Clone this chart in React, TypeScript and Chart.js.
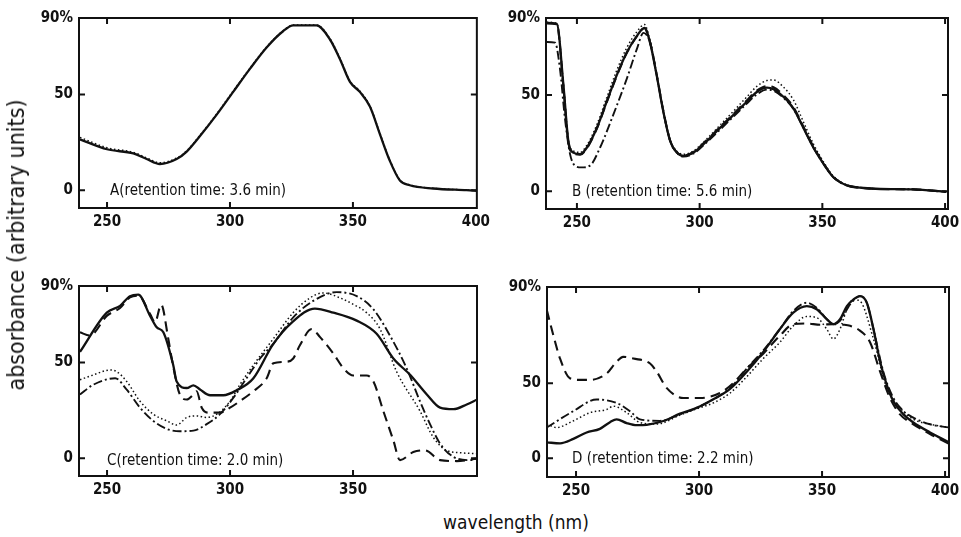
import React, { useEffect, useRef } from "react";
import { Chart, registerables } from "chart.js";

Chart.register(...registerables);

const FONT = '"Liberation Sans Narrow", "DejaVu Sans Condensed", "Arial Narrow", sans-serif';
const INK = "#111";

// ---------- Panel A (retention time 3.6 min) ----------
const A_WL = [239, 250, 260.7, 266.1, 271.5, 278.3, 282.4, 287.8, 294.6, 301.3, 308.1, 314.9, 321.7, 325.7, 335.2, 340.6, 344.7, 348.8, 352.8, 356.9, 361, 365, 369.1, 373.1, 382.6, 396.2, 400.5];
const A_SOLID = [26.6, 21.4, 19.2, 16.3, 13.7, 16.3, 20.2, 28.3, 39.5, 51.4, 63.4, 74.6, 83.2, 86.1, 86.1, 78.9, 68.6, 56.6, 51.4, 43.7, 29.2, 15.4, 5.1, 2.6, 0.9, 0, -0.3];
const A_DOTTED = [27.6, 22.2, 19.8, 16.9, 14.3, 16.8, 20.6, 28.7, 39.9, 51.8, 63.7, 74.9, 83.4, 86.3, 86.3, 79.3, 69, 57.1, 51.9, 44.1, 29.6, 15.7, 5.4, 2.8, 1.0, 0.1, -0.2];

// ---------- Panel B (retention time 5.6 min) ----------
const B_WL = [237.7, 241.8, 244.5, 246.5, 248.5, 251.3, 254, 258.1, 262.1, 266.2, 270.3, 274.4, 277.5, 279.8, 282.5, 285.2, 288, 290.7, 293.4, 297.5, 302.9, 308.3, 313.8, 319.2, 323.3, 327.4, 330.1, 334.1, 338.2, 342.3, 346.4, 350.5, 354.5, 360, 366.8, 373.6, 387.1, 400.5];
const B_SOLID = [87.5, 87, 55.1, 26.1, 20.1, 19.3, 22.6, 32.9, 46.5, 60.2, 72.1, 80.6, 84.9, 77.2, 60.2, 41.4, 26.1, 20.1, 18.4, 20.1, 26.1, 32.9, 39.7, 46.5, 51.6, 53.8, 53, 49.1, 43.1, 32.9, 22.6, 14.2, 7.3, 3.1, 1.7, 1.2, 1, -0.3];
const B_DOTTED = [87.8, 87.3, 56, 27, 21, 20.2, 23.8, 34.5, 48.5, 62.7, 74.5, 82.8, 86.6, 78, 60.5, 41.8, 26.6, 20.8, 19.2, 21, 27.2, 34.3, 41.6, 49, 54.5, 57.5, 57.8, 54.2, 47.5, 36, 24.5, 15.2, 7.8, 3.3, 1.8, 1.2, 1, -0.3];
const B_DASHED = [87.2, 86.8, 54, 25.5, 19.8, 19, 22.2, 32.5, 46, 59.8, 71.8, 80.4, 84.7, 77.5, 60.6, 41.8, 26.3, 20.3, 18.6, 20.4, 26.6, 33.4, 40.2, 47.2, 52.3, 54.6, 54, 50, 43.8, 33.5, 23, 14.5, 7.4, 3.1, 1.7, 1.2, 1, -0.3];
const B_DASHDOT_WL = [237.7, 241.1, 243.1, 245.1, 247.2, 249.2, 251.9, 255.3, 259.4, 264.8, 270.3, 274.4, 277.1, 279.8, 282.5, 285.2, 288, 290.7, 293.4, 297.5, 302.9, 308.3, 313.8, 319.2, 323.3, 327.4, 330.1, 334.1, 338.2, 342.3, 346.4, 350.5, 354.5, 360, 366.8, 373.6, 387.1, 400.5];
const B_DASHDOT = [77.5, 77.2, 63.5, 38, 19.3, 13.3, 12.4, 13.3, 22.6, 39.7, 58.4, 73.8, 82.3, 77.2, 60.2, 41.4, 26.1, 20.1, 18, 19.6, 25.5, 32, 38.8, 45.5, 50.3, 52.8, 52.2, 48.6, 42.8, 33, 22.6, 14.2, 7.3, 3.1, 1.7, 1.2, 1, -0.3];

// ---------- Panel C (retention time 2.0 min) ----------
const C_SOLID_WL = [239, 249.9, 255.3, 259.3, 262.7, 267.5, 270.2, 272.9, 276.9, 278.3, 282.4, 285.1, 287.8, 291.9, 297.3, 302.7, 309.5, 317.4, 325.2, 334.5, 342, 351.5, 359.6, 366.4, 373.2, 380, 385.4, 390.8, 396.2, 400.5];
const C_SOLID = [55.6, 76.1, 79.6, 84.7, 85.5, 74.4, 68.4, 65.8, 48.7, 40.1, 36.7, 38.1, 35.9, 32.9, 32.9, 35.5, 41.8, 59.4, 71, 78.2, 76.1, 71.9, 65, 52.1, 43.6, 33.3, 26.4, 25.6, 28.1, 30.7];
const C_DASHED_WL = [239, 243, 250, 255.3, 259.3, 262.7, 267.5, 269.5, 272, 274.9, 276.3, 279.6, 282.4, 285.1, 286.4, 288.5, 291.2, 295.9, 300, 304, 309.5, 314.9, 317.6, 323, 325.7, 328.4, 333.2, 336.6, 342, 346.1, 350.1, 355.5, 358.3, 362.3, 366.4, 369.1, 374.5, 379.3, 385.4, 392.1, 400.5];
const C_DASHED = [65.8, 64.1, 74.5, 78.5, 84, 85, 75.3, 71, 80.2, 62.4, 52.1, 33.3, 30.7, 33.3, 35, 26.4, 23.8, 23.8, 26.4, 29.8, 35, 41.8, 49.6, 50.4, 52.1, 59, 67.5, 63.3, 54.7, 47, 43.2, 43.2, 40.1, 24.7, 9.3, -1, 3.2, 4.1, -1, -1.5, -0.2];
const C_DOTTED_WL = [239, 244.4, 251.2, 253.9, 258, 263.4, 268.8, 274.3, 278.3, 282.4, 286.5, 290.5, 294.6, 300, 304, 309.5, 317.6, 325.7, 332.5, 337.9, 344.7, 350.1, 355.5, 361, 367.7, 377.2, 382.6, 388, 394, 400.5];
const C_DOTTED = [41, 43.5, 46.1, 45.3, 40.1, 29.8, 23, 19.5, 17.3, 21.3, 22.1, 21.3, 23, 29.8, 38.4, 48.7, 62.4, 76.1, 83.8, 86.4, 83.8, 80.4, 76.1, 67.5, 45.3, 24.7, 11, 4.1, 2.8, 2.4];
const C_DASHDOT_WL = [239, 244.4, 253.3, 258, 263.4, 268.8, 274.3, 279.6, 285.1, 290.5, 295.9, 301.3, 306.7, 312.2, 317.6, 325.7, 333.8, 343.3, 351.5, 358.3, 365, 371.8, 377.2, 381.3, 385.4, 390.8, 397.5, 400.5];
const C_DASHDOT = [33.3, 38.4, 41.8, 35.8, 26.4, 19.5, 15.3, 14.1, 14.4, 17.8, 23, 31.5, 41.8, 52.1, 59.8, 73.6, 82.2, 86.8, 84.7, 77.8, 64.1, 47, 29.8, 17.8, 7.6, 0.7, -1, -0.2];

// ---------- Panel D (retention time 2.2 min) ----------
const D_SOLID_WL = [238.1, 243.5, 248.9, 254.3, 259.7, 263.8, 266.5, 270.6, 274.7, 278.7, 285.5, 292.3, 299, 305.8, 312.6, 319.4, 326.1, 332.9, 338.3, 343.8, 347.8, 351.9, 354.6, 357.3, 360.1, 362.7, 365.4, 368.2, 370.9, 373.6, 376.3, 379, 383.1, 387.1, 393.9, 401.6];
const D_SOLID = [8.4, 7.9, 10.2, 13.6, 15.5, 19, 20.5, 18.5, 17.4, 17.6, 19.6, 23.5, 26.5, 31, 36.5, 45.5, 55.9, 67.9, 76.5, 80, 78.3, 73.1, 70.5, 73.1, 80, 83.4, 85.2, 81.7, 67.9, 50.7, 38.6, 30, 23.1, 18.8, 13.6, 8.4];
const D_DASHED_WL = [238.1, 240.8, 243.5, 247.5, 251.6, 255.7, 262.5, 266, 269.2, 273.3, 280.1, 282.8, 286.9, 293.6, 300.4, 308.5, 313.9, 319.4, 326.1, 332.9, 338.3, 343.8, 349.2, 354.6, 358.7, 361.4, 365.4, 369.5, 373.6, 377.6, 381.7, 387.1, 393.9, 401.6];
const D_DASHED = [78, 64.5, 52.4, 42.1, 41.2, 41.2, 44.6, 50, 53.3, 52.4, 49.8, 45.5, 36.9, 31.7, 31.7, 34.3, 39.5, 47.2, 55, 64.5, 70.5, 70.8, 70.2, 70.5, 70.2, 69.6, 67.1, 61, 45.5, 31.7, 23.1, 17.9, 12.8, 7.6];
const D_DOTTED_WL = [238.1, 242.1, 248.9, 255.7, 262.5, 265.2, 270.6, 276, 282.8, 292.3, 299, 305.8, 312.6, 319.4, 326.1, 332.9, 338.3, 343.8, 347.8, 351.9, 354.6, 357.3, 360.1, 362.7, 365.4, 370.9, 376.3, 381.7, 387.1, 393.9, 401.6];
const D_DOTTED = [18, 16.2, 19.7, 24, 25.7, 27.4, 24, 18.8, 18, 22.7, 26, 29.1, 34.3, 42.9, 52.4, 61, 69.6, 74.5, 73.9, 67.9, 62.7, 67.9, 78.3, 83.4, 82.6, 62.7, 36.9, 26.5, 20.5, 17.9, 16.2];
const D_DASHDOT_WL = [238.1, 248.9, 258.4, 266.5, 271.9, 276, 284.1, 292.3, 299, 305.8, 312.6, 319.4, 326.1, 332.9, 338.3, 343.8, 347.8, 351.9, 354.6, 357.3, 361.4, 365.4, 368.2, 370.9, 374.9, 379, 383.1, 387.1, 393.9, 401.6];
const D_DASHDOT = [16.2, 24.8, 30.9, 29.1, 24.8, 20.5, 19.7, 23.1, 26.5, 31, 36.9, 47.2, 56.7, 67.9, 77.4, 81.7, 79.1, 73.1, 70.5, 72.2, 80.8, 85.2, 81.7, 67.9, 45.5, 31.7, 24.8, 21.4, 17.9, 16.2];

// ---------- Tick values and labels ----------
const X_TICKS_FULL = [250, 300, 350, 400];
const X_TICKS_C = [250, 300, 350];
const Y_TICKS = [0, 50, 90];
const Y_TICKS_D = [0, 39.5, 90];
const Y_LABELS = ["0", "50", "90%"];

const PANEL_TITLES = [
  "A(retention time: 3.6 min)",
  "B (retention time: 5.6 min)",
  "C(retention time: 2.0 min)",
  "D (retention time: 2.2 min)",
];
const Y_TITLE = "absorbance (arbitrary units)";
const X_TITLE = "wavelength (nm)";

type Style = "solid" | "dotted" | "dashed" | "dashdot";
const STYLE: Record<Style, { w: number; dash: number[] }> = {
  solid: { w: 2.3, dash: [] },
  dotted: { w: 1.5, dash: [1.5, 2.5] },
  dashed: { w: 2.1, dash: [10, 6] },
  dashdot: { w: 1.9, dash: [9, 3, 2, 3] },
};

type Series = { x: number[]; y: number[]; style: Style };
type Spec = {
  left: number; top: number; right: number; bottom: number;
  xMin: number; xMax: number; yMin: number; yMax: number;
  xTicks: number[]; yTicks: number[]; yLabels: string[];
  series: Series[];
  title: string; titleX: number; titleY: number;
};

const PANELS: Spec[] = [
  {
    left: 79, top: 15, right: 477, bottom: 208,
    xMin: 238.6, xMax: 400.4, yMin: -9.3, yMax: 90,
    xTicks: X_TICKS_FULL, yTicks: Y_TICKS, yLabels: Y_LABELS,
    series: [
      { x: A_WL, y: A_DOTTED, style: "dotted" },
      { x: A_WL, y: A_SOLID, style: "solid" },
    ],
    title: PANEL_TITLES[0], titleX: 110, titleY: 190,
  },
  {
    left: 546, top: 15, right: 948, bottom: 209,
    xMin: 237.4, xMax: 401.2, yMin: -9.2, yMax: 90,
    xTicks: X_TICKS_FULL, yTicks: Y_TICKS, yLabels: Y_LABELS,
    series: [
      { x: B_WL, y: B_DOTTED, style: "dotted" },
      { x: B_DASHDOT_WL, y: B_DASHDOT, style: "dashdot" },
      { x: B_WL, y: B_DASHED, style: "dashed" },
      { x: B_WL, y: B_SOLID, style: "solid" },
    ],
    title: PANEL_TITLES[1], titleX: 572, titleY: 191,
  },
  {
    left: 79, top: 283, right: 477, bottom: 476,
    xMin: 238.6, xMax: 400.4, yMin: -9.3, yMax: 90,
    xTicks: X_TICKS_C, yTicks: Y_TICKS, yLabels: Y_LABELS,
    series: [
      { x: C_DOTTED_WL, y: C_DOTTED, style: "dotted" },
      { x: C_DASHDOT_WL, y: C_DASHDOT, style: "dashdot" },
      { x: C_DASHED_WL, y: C_DASHED, style: "dashed" },
      { x: C_SOLID_WL, y: C_SOLID, style: "solid" },
    ],
    title: PANEL_TITLES[2], titleX: 107, titleY: 460,
  },
  {
    left: 547, top: 284, right: 949, bottom: 477,
    xMin: 238.2, xMax: 401.6, yMin: -9.8, yMax: 90,
    xTicks: X_TICKS_FULL, yTicks: Y_TICKS_D, yLabels: Y_LABELS,
    series: [
      { x: D_DOTTED_WL, y: D_DOTTED, style: "dotted" },
      { x: D_DASHDOT_WL, y: D_DASHDOT, style: "dashdot" },
      { x: D_DASHED_WL, y: D_DASHED, style: "dashed" },
      { x: D_SOLID_WL, y: D_SOLID, style: "solid" },
    ],
    title: PANEL_TITLES[3], titleX: 572, titleY: 458,
  },
];

const framePlugin = {
  id: "frame",
  afterDatasetsDraw(chart: any) {
    const { ctx, chartArea: a, scales } = chart;
    const x = scales.x;
    const y = scales.y;
    const TL = 6;
    ctx.save();
    ctx.strokeStyle = INK;
    ctx.lineWidth = 2;
    ctx.setLineDash([]);
    ctx.strokeRect(a.left, a.top, a.right - a.left, a.bottom - a.top);
    ctx.beginPath();
    for (const t of x.ticks) {
      const px = x.getPixelForValue(t.value);
      if (px <= a.left + 1 || px >= a.right - 1) continue;
      ctx.moveTo(px, a.top);
      ctx.lineTo(px, a.top + TL);
      ctx.moveTo(px, a.bottom);
      ctx.lineTo(px, a.bottom - TL);
    }
    for (const t of y.ticks) {
      const py = y.getPixelForValue(t.value);
      if (py <= a.top + 1 || py >= a.bottom - 1) continue;
      ctx.moveTo(a.left, py);
      ctx.lineTo(a.left + TL, py);
      ctx.moveTo(a.right, py);
      ctx.lineTo(a.right - TL, py);
    }
    ctx.stroke();
    ctx.restore();
  },
};

const PADL = 52;
const PADT = 12;
const PADR = 18;
const PADB = 30;

function Panel({ spec }: { spec: Spec }) {
  const ref = useRef<HTMLCanvasElement>(null);
  const w = spec.right - spec.left + PADL + PADR;
  const h = spec.bottom - spec.top + PADT + PADB;

  useEffect(() => {
    const font = { family: FONT, size: 15, weight: "bold" as const };
    const chart = new Chart(ref.current as HTMLCanvasElement, {
      type: "line",
      data: {
        datasets: spec.series.map((s) => ({
          data: s.x.map((xv, i) => ({ x: xv, y: s.y[i] })),
          borderColor: INK,
          borderWidth: STYLE[s.style].w,
          borderDash: STYLE[s.style].dash,
          pointRadius: 0,
          fill: false,
          cubicInterpolationMode: "monotone" as const,
        })),
      },
      options: {
        responsive: false,
        maintainAspectRatio: false,
        animation: false,
        devicePixelRatio: 1,
        events: [],
        layout: { padding: { left: 0, top: PADT, right: PADR, bottom: 0 } },
        plugins: { legend: { display: false }, tooltip: { enabled: false } },
        scales: {
          x: {
            type: "linear",
            min: spec.xMin,
            max: spec.xMax,
            grid: { display: false, drawTicks: false },
            border: { display: false },
            afterBuildTicks: (s: any) => {
              s.ticks = spec.xTicks.map((v) => ({ value: v }));
            },
            afterFit: (s: any) => {
              s.height = PADB;
            },
            ticks: {
              autoSkip: false,
              maxRotation: 0,
              minRotation: 0,
              padding: 5,
              color: INK,
              font,
              callback: (v: any) => String(v),
            },
          },
          y: {
            type: "linear",
            min: spec.yMin,
            max: spec.yMax,
            grid: { display: false, drawTicks: false },
            border: { display: false },
            afterBuildTicks: (s: any) => {
              s.ticks = spec.yTicks.map((v) => ({ value: v }));
            },
            afterFit: (s: any) => {
              s.width = PADL;
            },
            ticks: {
              autoSkip: false,
              padding: 6,
              color: INK,
              font,
              callback: (_v: any, i: number) => spec.yLabels[i],
            },
          },
        },
      },
      plugins: [framePlugin],
    } as any);
    return () => chart.destroy();
  }, [spec]);

  return (
    <>
      <canvas
        ref={ref}
        width={w}
        height={h}
        style={{ position: "absolute", left: spec.left - PADL, top: spec.top - PADT, width: w, height: h }}
      />
      <div
        style={{
          position: "absolute",
          left: spec.titleX,
          top: spec.titleY - 9,
          height: 18,
          lineHeight: "18px",
          fontFamily: FONT,
          fontSize: 15,
          color: INK,
          whiteSpace: "nowrap",
        }}
      >
        {spec.title}
      </div>
    </>
  );
}

export default function App() {
  return (
    <div
      style={{
        position: "absolute",
        left: 0,
        top: 0,
        width: 961,
        height: 537,
        background: "#fff",
        overflow: "hidden",
      }}
    >
      {PANELS.map((p, i) => (
        <Panel key={i} spec={p} />
      ))}
      <div
        style={{
          position: "absolute",
          left: 16,
          top: 245,
          transform: "translate(-50%, -50%) rotate(-90deg)",
          fontFamily: FONT,
          fontSize: 23,
          color: INK,
          whiteSpace: "nowrap",
          lineHeight: "24px",
        }}
      >
        {Y_TITLE}
      </div>
      <div
        style={{
          position: "absolute",
          left: 516,
          top: 522,
          transform: "translate(-50%, -50%)",
          fontFamily: FONT,
          fontSize: 19,
          color: INK,
          whiteSpace: "nowrap",
          lineHeight: "24px",
        }}
      >
        {X_TITLE}
      </div>
    </div>
  );
}
